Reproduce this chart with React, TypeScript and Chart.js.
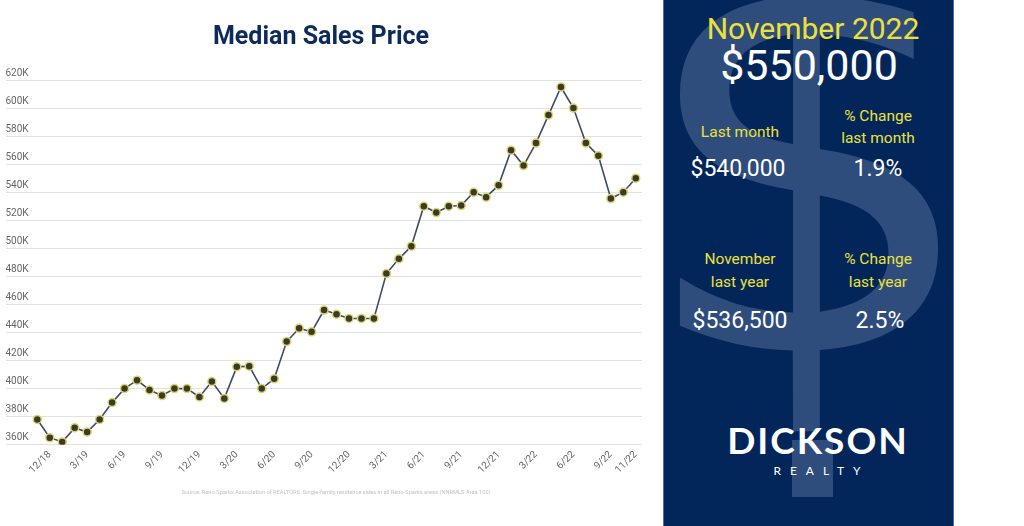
import React, { useEffect, useRef } from 'react';
import { Chart, registerables } from 'chart.js';

Chart.register(...registerables);

const months = [
  '11/18', '12/18', '1/19', '2/19', '3/19', '4/19', '5/19', '6/19', '7/19', '8/19', '9/19', '10/19', '11/19', '12/19',
  '1/20', '2/20', '3/20', '4/20', '5/20', '6/20', '7/20', '8/20', '9/20', '10/20', '11/20', '12/20',
  '1/21', '2/21', '3/21', '4/21', '5/21', '6/21', '7/21', '8/21', '9/21', '10/21', '11/21', '12/21',
  '1/22', '2/22', '3/22', '4/22', '5/22', '6/22', '7/22', '8/22', '9/22', '10/22', '11/22',
];

// Median sales price, thousands of dollars
const prices = [
  378, 365, 362, 372, 369, 378, 390, 400, 406, 399, 395, 400, 400, 394,
  405, 393, 415.5, 416, 400, 407, 433.5, 443, 440.5, 456, 453, 450,
  450, 450, 482, 492.5, 501.5, 530, 525.5, 530, 530.5, 540, 536.5, 545,
  570, 559, 575, 595, 615, 600, 575, 566, 535.5, 540, 550,
];

const xTickLabels = ['12/18', '3/19', '6/19', '9/19', '12/19', '3/20', '6/20', '9/20', '12/20', '3/21', '6/21', '9/21', '12/21', '3/22', '6/22', '9/22', '11/22'];

const yMin = 360;
const yMax = 620;
const yStep = 20;

const sourceNote = 'Source: Reno-Sparks Association of REALTORS. Single-family residence sales in all Reno-Sparks areas (NNRMLS Area 100)';

const YELLOW = '#ece13c';
const WATERMARK = '#2e4d7d';

function Txt(props: { x: number; y: number; size: number; color: string; weight?: number | string; family?: string; ls?: number; children: React.ReactNode }) {
  const { x, y, size, color, weight = 400, family = 'Roboto', ls = 0, children } = props;
  return (
    <div
      style={{
        position: 'absolute',
        left: x,
        top: y,
        transform: 'translate(-50%, -50%)',
        fontFamily: family,
        fontSize: size,
        fontWeight: weight as any,
        color,
        lineHeight: 1,
        whiteSpace: 'nowrap',
        letterSpacing: ls,
        paddingLeft: ls,
      }}
    >
      {children}
    </div>
  );
}

function PriceChart() {
  const ref = useRef<HTMLCanvasElement | null>(null);
  useEffect(() => {
    if (!ref.current) return;
    const tickIdx = xTickLabels.map((l) => months.indexOf(l));
    const chart = new Chart(ref.current, {
      type: 'line',
      data: {
        datasets: [
          {
            data: prices.map((p, i) => ({ x: i, y: p })),
            borderColor: '#3d4c63',
            borderWidth: 1.6,
            pointRadius: 4,
            pointBackgroundColor: '#3a3a2c',
            pointBorderColor: '#ddd66a',
            pointBorderWidth: 1.5,
            tension: 0,
          },
        ],
      },
      options: {
        animation: false,
        responsive: false,
        maintainAspectRatio: false,
        layout: { padding: { left: 0, right: 18, top: 0, bottom: 46 } },
        plugins: {
          legend: { display: false },
          tooltip: { enabled: false },
          title: {
            display: true,
            text: 'Median Sales Price',
            color: '#0c2b5c',
            font: { family: 'Roboto', size: 25, weight: 'bold' },
            padding: { top: 23, bottom: 27 },
          },
        },
        scales: {
          x: {
            type: 'linear',
            min: -2.55,
            max: 48.5,
            grid: { display: false, drawTicks: false },
            border: { display: false },
            afterBuildTicks: (axis: any) => {
              axis.ticks = tickIdx.map((v) => ({ value: v }));
            },
            ticks: {
              autoSkip: false,
              minRotation: 45,
              maxRotation: 45,
              padding: 4,
              color: '#666',
              font: { family: 'Roboto', size: 10 },
              callback: (v: any) => months[Number(v)] ?? '',
            },
          },
          y: {
            min: yMin,
            max: yMax,
            grid: { color: '#e2e2e2', drawTicks: false, lineWidth: 1 },
            border: { display: false },
            ticks: {
              stepSize: yStep,
              mirror: true,
              padding: 0,
              labelOffset: -7,
              color: '#666',
              font: { family: 'Roboto', size: 10 },
              callback: (v: any) => v + 'K',
            },
          },
        },
      },
    });
    return () => chart.destroy();
  }, []);
  return <canvas ref={ref} width={660} height={526} style={{ position: 'absolute', left: 0, top: 0, width: 660, height: 526 }} />;
}

export default function App() {
  return (
    <div style={{ position: 'absolute', left: 0, top: 0, width: 1024, height: 526, background: '#fff', overflow: 'hidden' }}>
      <PriceChart />
      <Txt x={336} y={493} size={5.7} color="#c2c2c2">{sourceNote}</Txt>
      <div
        style={{
          position: 'absolute',
          left: 663,
          top: 0,
          width: 291,
          height: 526,
          background: '#03265a',
          overflow: 'hidden',
          boxSizing: 'border-box',
          borderLeft: '1px solid #4d6d9a',
          borderRight: '1px solid #4d6d9a',
        }}
      >
        <Txt x={145} y={160} size={549} color={WATERMARK} family="DejaVu Sans">$</Txt>
        <div style={{ position: 'absolute', left: 128, top: 440, width: 41, height: 57, background: WATERMARK }} />
        <Txt x={149} y={29} size={30} color={YELLOW}>November 2022</Txt>
        <Txt x={145} y={65} size={43} color="#fff">$550,000</Txt>
        <Txt x={76} y={133} size={15.5} color={YELLOW}>Last month</Txt>
        <Txt x={214} y={117} size={15.5} color={YELLOW}>% Change</Txt>
        <Txt x={214} y={139} size={15.5} color={YELLOW}>last month</Txt>
        <Txt x={74} y={168} size={23} color="#fff">$540,000</Txt>
        <Txt x={214} y={168} size={23} color="#fff">1.9%</Txt>
        <Txt x={76} y={260} size={15.5} color={YELLOW}>November</Txt>
        <Txt x={76} y={283} size={15.5} color={YELLOW}>last year</Txt>
        <Txt x={214} y={260} size={15.5} color={YELLOW}>% Change</Txt>
        <Txt x={214} y={283} size={15.5} color={YELLOW}>last year</Txt>
        <Txt x={76} y={320} size={23} color="#fff">$536,500</Txt>
        <Txt x={216} y={320} size={23} color="#fff">2.5%</Txt>
        <Txt x={153} y={439} size={37} color="#fff" weight={700} family="Lato" ls={2}>DICKSON</Txt>
        <Txt x={153} y={471} size={12} color="#fff" weight={400} family="Lato" ls={9}>REALTY</Txt>
      </div>
    </div>
  );
}
